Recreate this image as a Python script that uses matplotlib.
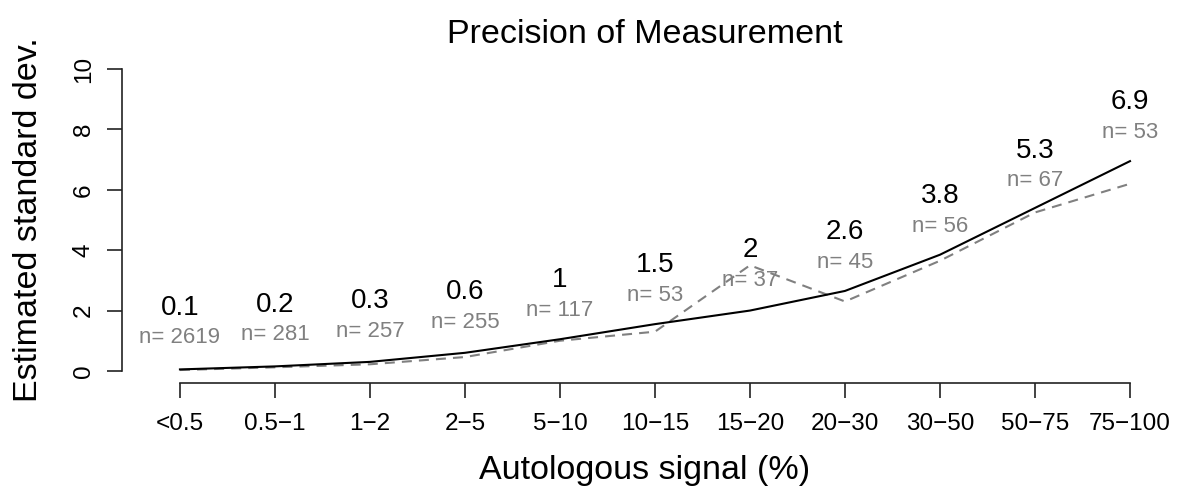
import matplotlib
matplotlib.use("Agg")
import matplotlib.pyplot as plt

categories = ["<0.5", "0.5-1", "1-2", "2-5", "5-10", "10-15", "15-20",
              "20-30", "30-50", "50-75", "75-100"]
solid_sd = [0.05, 0.15, 0.3, 0.6, 1.05, 1.55, 2.0, 2.65, 3.85, 5.4, 6.95]
dashed_sd = [0.03, 0.12, 0.22, 0.46, 1.0, 1.3, 3.5, 2.3, 3.65, 5.25, 6.2]
label_values = ["0.1", "0.2", "0.3", "0.6", "1", "1.5", "2", "2.6", "3.8", "5.3", "6.9"]
label_nums = [0.1, 0.2, 0.3, 0.6, 1, 1.5, 2, 2.6, 3.8, 5.3, 6.9]
counts = [2619, 281, 257, 255, 117, 53, 37, 45, 56, 67, 53]
yticks = [0, 2, 4, 6, 8, 10]

plt.rcParams['font.family'] = ['Liberation Sans', 'DejaVu Sans']

W, H = 1182, 488
fig = plt.figure(figsize=(W / 100, H / 100), dpi=100)
left, right, bottom, top = 122, 1168, 383, 57
ax = fig.add_axes([left / W, 1 - bottom / H, (right - left) / W, (bottom - top) / H])

x = list(range(1, len(categories) + 1))
ax.plot(x, dashed_sd, color="#808080", lw=1.5, dashes=(4.8, 3.4))
ax.plot(x, solid_sd, color="black", lw=1.5)

for xi, lv, ln, n in zip(x, label_values, label_nums, counts):
    ax.text(xi, ln + 2, lv, ha="center", va="center", fontsize=20, color="black")
    ax.text(xi, ln + 1, f"n= {n}", ha="center", va="center", fontsize=16, color="#808080")

ax.set_xlim(0.39, 11.4)
ax.set_ylim(-0.4, 10.4)
ax.set_xticks(x)
ax.set_xticklabels([c.replace("-", "\u2212") for c in categories], fontsize=17.5)
ax.set_yticks(yticks)
ax.set_yticklabels([str(v) for v in yticks], fontsize=17.5, rotation=90, va="center")

for s in ["top", "right"]:
    ax.spines[s].set_visible(False)
ax.spines["left"].set_bounds(0, 10)
ax.spines["bottom"].set_bounds(1, 11)
for s in ["left", "bottom"]:
    ax.spines[s].set_linewidth(1.2)
    ax.spines[s].set_color("#222222")
ax.tick_params(axis="both", length=10.5, width=1.2, color="#222222")
ax.tick_params(axis="x", pad=11)
ax.tick_params(axis="y", pad=9)

ax.set_xlabel("Autologous signal (%)", fontsize=24.5)
ax.xaxis.set_label_coords(0.5, -0.22)
ax.set_ylabel("Estimated standard dev.", fontsize=24.5)
ax.yaxis.set_label_coords(-0.0745, 0.5)

ax.set_title("Precision of Measurement", fontsize=24.5, pad=10)

fig.savefig("out.png", dpi=100)
